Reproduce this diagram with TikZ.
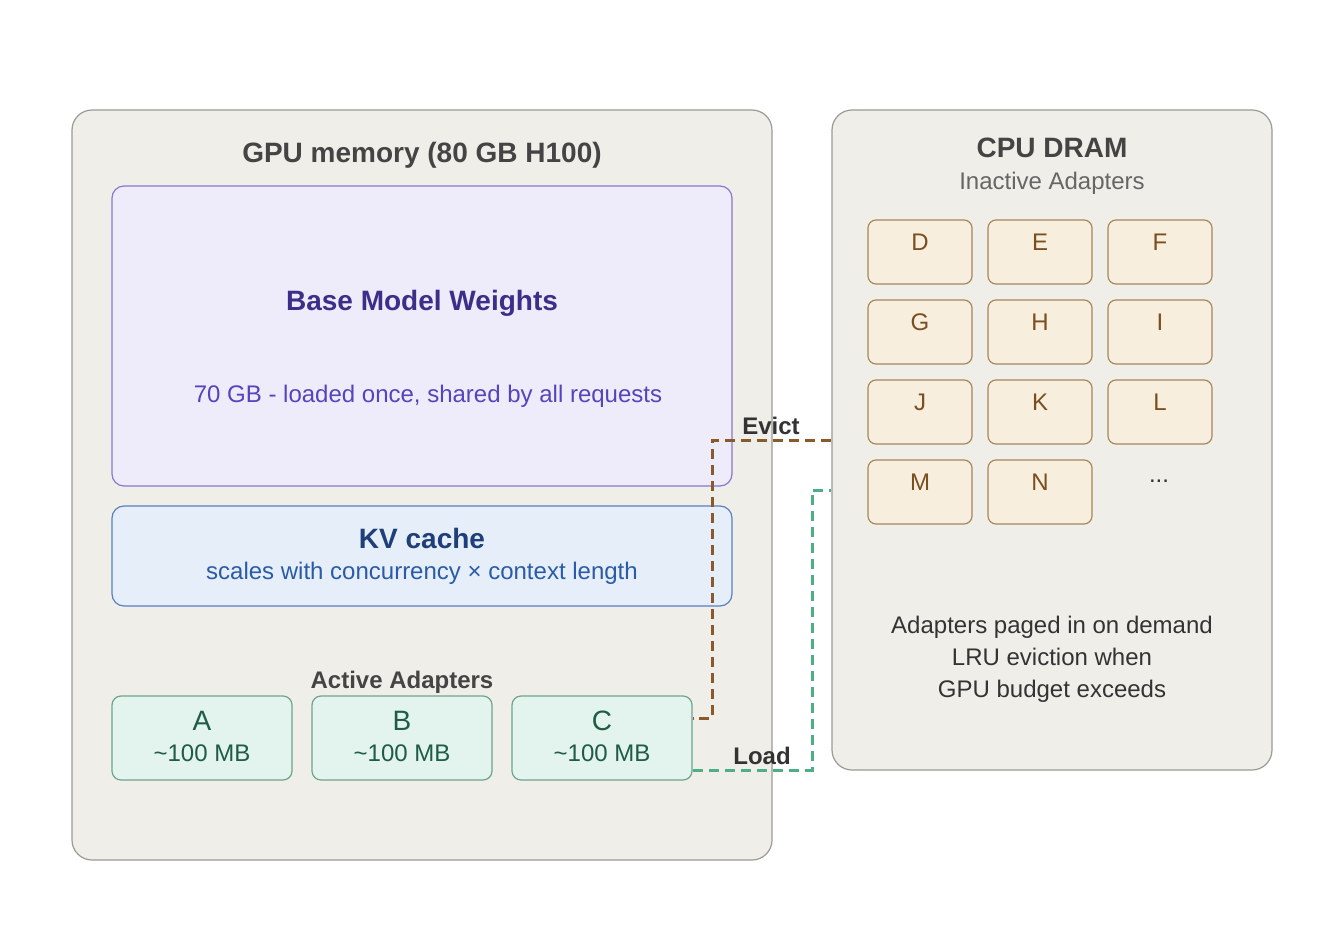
\documentclass[tikz,border=0pt]{standalone}
\usepackage{fontspec}
\setmainfont{Liberation Sans}
\definecolor{panelfill}{HTML}{F0EEE9}
\definecolor{panelline}{HTML}{9A9A96}
\definecolor{basefill}{HTML}{EEEBFA}
\definecolor{baseline}{HTML}{8878D0}
\definecolor{basetitle}{HTML}{3C2F8A}
\definecolor{basetext}{HTML}{5544BB}
\definecolor{kvfill}{HTML}{E6EFF9}
\definecolor{kvline}{HTML}{5A80C0}
\definecolor{kvtitle}{HTML}{1E3F7A}
\definecolor{kvtext}{HTML}{2A5BA8}
\definecolor{actfill}{HTML}{E3F3EE}
\definecolor{actline}{HTML}{6FA58C}
\definecolor{acttext}{HTML}{1F5C44}
\definecolor{inafill}{HTML}{F7EEDD}
\definecolor{inaline}{HTML}{A8875A}
\definecolor{inatext}{HTML}{7A4E1E}
\definecolor{darktext}{HTML}{333333}
\definecolor{titletext}{HTML}{444444}
\definecolor{evictcol}{HTML}{8B5A2B}
\definecolor{loadcol}{HTML}{4CAF86}
\tikzset{
  box/.style={draw, rounded corners=#1, inner sep=0pt, line width=1.2pt},
  panel/.style={box=20pt, fill=panelfill, draw=panelline},
  basebox/.style={box=12pt, fill=basefill, draw=baseline},
  kvbox/.style={box=12pt, fill=kvfill, draw=kvline},
  actbox/.style={box=9pt, fill=actfill, draw=actline, minimum width=180pt, minimum height=84pt},
  inabox/.style={box=8pt, fill=inafill, draw=inaline, minimum width=104pt, minimum height=64pt},
  txt/.style={inner sep=0pt, anchor=center, text depth=0pt},
  big/.style={txt, font=\fontsize{28}{28}\selectfont, text height=20pt},
  mid/.style={txt, font=\fontsize{24}{24}\selectfont, text height=17pt},
  conn/.style={dash pattern=on 10pt off 6pt, line width=3pt},
}
\begin{document}
\begin{tikzpicture}[x=1pt,y=-1pt]
\useasboundingbox (0,0) rectangle (1344,944);
% panels
\node[panel, minimum width=700pt, minimum height=750pt] (gpu) at (422,485) {};
\node[panel, minimum width=440pt, minimum height=660pt] (cpu) at (1052,440) {};
\node[big, text=titletext] (gputitle) at (422,153) {\bfseries GPU memory (80 GB H100)};
\node[big, text=titletext] (cputitle) at (1052,148) {\bfseries CPU DRAM};
\node[mid, text=black!60] (cpusub) at (1052,181) {Inactive Adapters};
% base model
\node[basebox, minimum width=620pt, minimum height=300pt] (base) at (422,336) {};
\node[big, text=basetitle] (basett) at (422,300) {\bfseries Base Model Weights};
\node[mid, text=basetext] (basetx) at (428,394) {70 GB - loaded once, shared by all requests};
% kv cache
\node[kvbox, minimum width=620pt, minimum height=100pt] (kv) at (422,556) {};
\node[big, text=kvtitle] (kvtt) at (422,538) {\bfseries KV cache};
\node[mid, text=kvtext] (kvtx) at (422,571) {scales with concurrency × context length};
% active adapters
\node[mid, text=titletext] (acttitle) at (402,680) {\bfseries Active Adapters};
\foreach \n/\x in {A/202,B/402,C/602}{
  \node[actbox] (\n) at (\x,738) {};
  \node[big, text=acttext] (\n l) at (\x,720) {\n};
  \node[mid, text=acttext] (\n s) at (\x,753) {\textasciitilde100 MB};
}
% inactive adapters
\foreach \n/\x/\y in {D/920/252,E/1040/252,F/1160/252,G/920/332,H/1040/332,I/1160/332,J/920/412,K/1040/412,L/1160/412,M/920/492,N/1040/492}{
  \node[inabox] (\n) at (\x,\y) {};
  \node[mid, text=inatext] (\n l) at (\x,\y-10) {\n};
}
\node[mid, text=darktext] (dots) at (1159,474) {...};
% note
\node[mid, text=darktext] (note1) at (1052,625) {Adapters paged in on demand};
\node[mid, text=darktext] (note2) at (1052,657) {LRU eviction when};
\node[mid, text=darktext] (note3) at (1052,689) {GPU budget exceeds};
% connectors
\coordinate (ev1) at (712,440);
\coordinate (ev2) at (712,718);
\coordinate (ld1) at (812,770);
\coordinate (ld2) at (812,490);
\draw[conn, draw=evictcol] (cpu.west) -- (ev1) -- (ev2) -- (C.east |- ev2);
\draw[conn, draw=loadcol] (C.east |- ld1) -- (ld1) -- (ld2) -- (cpu.west |- ld2);
\node[mid, text=darktext] (evlbl) at (771,426) {\bfseries Evict};
\node[mid, text=darktext] (ldlbl) at (762,756) {\bfseries Load};
\end{tikzpicture}
\end{document}
